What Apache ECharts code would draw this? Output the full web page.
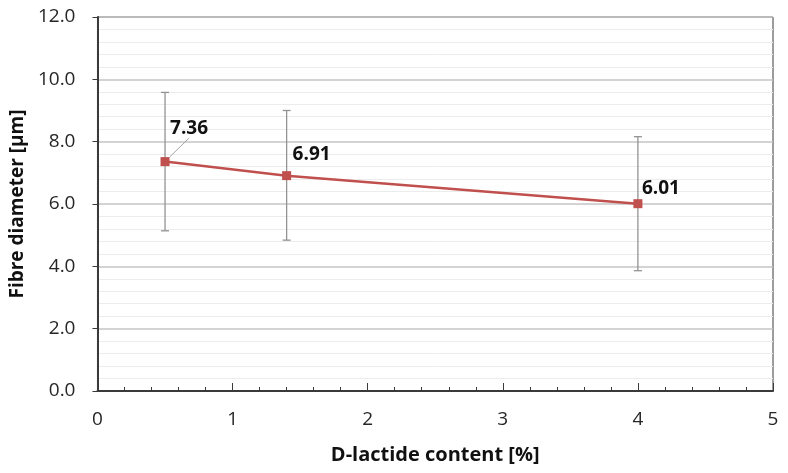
<!DOCTYPE html>
<html>
<head>
<meta charset="utf-8">
<script src="https://cdn.jsdelivr.net/npm/echarts@6/dist/echarts.min.js"></script>
<style>
  html, body { margin: 0; padding: 0; background: #fff; }
  #chart { width: 788px; height: 473px; }
</style>
</head>
<body>
<div id="chart"></div>
<script>
// D-lactide content [%]
const dContent = [0.5, 1.4, 4.0];
// mean fibre diameter [µm]
const fibreMean = [7.36, 6.91, 6.01];
// error bar ends (mean - sd, mean + sd)
const errLow = [5.14, 4.84, 3.86];
const errHigh = [9.58, 9.00, 8.16];
// label offsets from the marker
const labelDx = [24, 25, 23];
const labelDy = [-33, -21, -15];

const lineData = dContent.map((x, i) => [x, fibreMean[i]]);
const errData = dContent.map((x, i) => [x, errLow[i], errHigh[i]]);

const chart = echarts.init(document.getElementById('chart'));

const option = {
  animation: false,
  grid: {
    left: 96, right: 15, top: 17, bottom: 82,
    show: true, borderColor: '#3a3a3a', borderWidth: 1
  },
  xAxis: {
    type: 'value',
    min: 0, max: 5, interval: 1,
    name: 'D-lactide content [%]',
    nameLocation: 'middle',
    nameGap: 54,
    nameTextStyle: { fontFamily: 'Open Sans', fontWeight: 'bold', fontSize: 20, color: '#111' },
    axisLine: { lineStyle: { color: '#3a3a3a', width: 2 } },
    axisTick: { show: true, inside: true, length: 8, lineStyle: { color: '#3a3a3a', width: 1 } },
    minorTick: { show: true, splitNumber: 5, length: 4, lineStyle: { color: '#3a3a3a' } },
    splitLine: { show: false },
    axisLabel: { fontFamily: 'Open Sans', fontSize: 19, color: '#262626', margin: 19 }
  },
  yAxis: {
    type: 'value',
    min: 0, max: 12, interval: 2,
    name: 'Fibre diameter [µm]',
    nameLocation: 'middle',
    nameGap: 64,
    nameTextStyle: { fontFamily: 'Open Sans', fontWeight: 'bold', fontSize: 19, color: '#111' },
    axisLine: { show: true, lineStyle: { color: '#3a3a3a', width: 2 } },
    axisTick: { show: true, inside: false, length: 5, lineStyle: { color: '#3a3a3a' } },
    splitLine: { show: true, lineStyle: { color: '#c4c4c4', width: 1.5 } },
    minorTick: { show: false, splitNumber: 5 },
    minorSplitLine: { show: true, lineStyle: { color: '#ececec', width: 1 } },
    axisLabel: {
      fontFamily: 'Open Sans', fontSize: 19, color: '#262626', margin: 22,
      formatter: v => v.toFixed(1)
    }
  },
  series: [
    {
      type: 'custom',
      z: 1,
      data: errData,
      renderItem: function (params, api) {
        const top = api.coord([api.value(0), api.value(2)]);
        const bot = api.coord([api.value(0), api.value(1)]);
        const cap = 4;
        const style = { stroke: '#939393', lineWidth: 1.3 };
        return {
          type: 'group',
          children: [
            { type: 'line', shape: { x1: top[0], y1: top[1], x2: bot[0], y2: bot[1] }, style },
            { type: 'line', shape: { x1: top[0] - cap, y1: top[1], x2: top[0] + cap, y2: top[1] }, style },
            { type: 'line', shape: { x1: bot[0] - cap, y1: bot[1], x2: bot[0] + cap, y2: bot[1] }, style }
          ]
        };
      }
    },
    {
      type: 'line',
      z: 3,
      symbol: 'rect',
      symbolSize: 9,
      lineStyle: { color: '#c0504d', width: 2.5 },
      itemStyle: { color: '#c0504d' },
      label: {
        show: true,
        position: 'inside',
        fontFamily: 'Open Sans',
        fontWeight: 'bold',
        fontSize: 19,
        color: '#111',
        formatter: p => p.value[1].toFixed(2)
      },
      labelLayout: function (params) {
        return { dx: labelDx[params.dataIndex], dy: labelDy[params.dataIndex] };
      },
      labelLine: { show: false },
      emphasis: { disabled: true },
      // leader line only for the first label
      data: lineData.map((d, i) => i === 0
        ? { value: d, labelLine: { show: true, length2: 0, lineStyle: { color: '#a6a6a6', width: 1 } } }
        : { value: d })
    }
  ]
};

chart.setOption(option);
</script>
</body>
</html>
